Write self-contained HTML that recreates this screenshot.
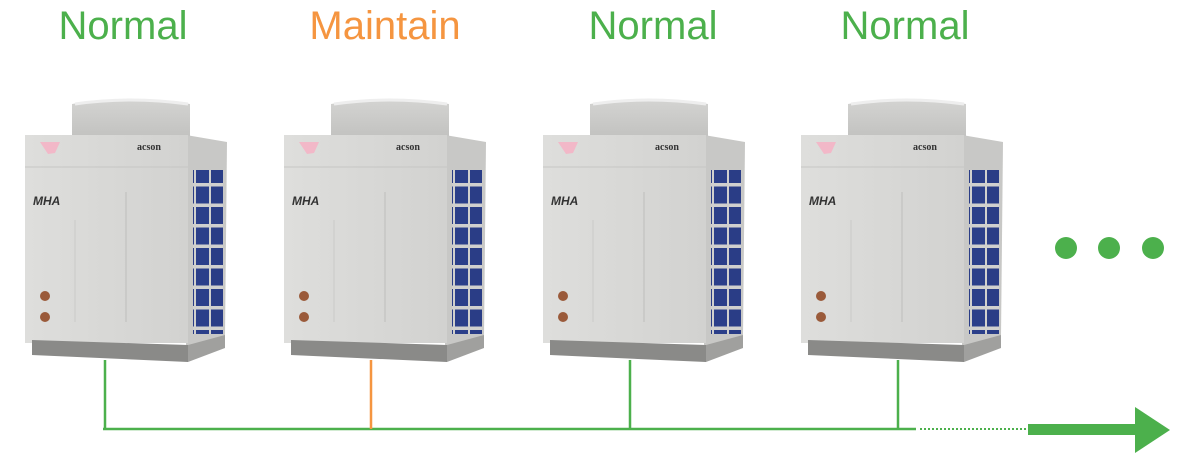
<!DOCTYPE html>
<html><head><style>
html,body{margin:0;padding:0;background:#fff;}
svg{display:block;}
text{font-family:"Liberation Sans",sans-serif;font-size:40px;}
</style></head><body>
<svg width="1192" height="454" viewBox="0 0 1192 454" xmlns="http://www.w3.org/2000/svg">
<defs>
<linearGradient id="fan" x1="0" y1="0" x2="0" y2="1"><stop offset="0" stop-color="#d4d4d2"/><stop offset="1" stop-color="#c2c2c0"/></linearGradient>
<linearGradient id="fr" x1="0" y1="0" x2="1" y2="0"><stop offset="0" stop-color="#dededc"/><stop offset="1" stop-color="#d2d2d0"/></linearGradient>
<pattern id="fins" x="0" y="0" width="30" height="20.5" patternUnits="userSpaceOnUse">
<rect width="30" height="20.5" fill="#d0d0ce"/>
<rect x="1" y="2" width="13" height="17" fill="#2a3d86"/>
<rect x="16" y="2" width="13" height="17" fill="#2b3f8a"/>
</pattern>
<g id="unit">
<path d="M72 104 Q130 94 190 104 L190 137 L72 137 Z" fill="url(#fan)"/>
<path d="M75 104 Q130 96 188 104" stroke="#eeeeee" stroke-width="3" fill="none"/>
<path d="M186 135 L227 142 L225 337 L186 350 Z" fill="#c8c8c6"/>
<rect x="193" y="170" width="30" height="164" fill="url(#fins)"/>
<rect x="25" y="135" width="163" height="208" fill="url(#fr)"/>
<line x1="25" y1="167" x2="188" y2="167" stroke="#c6c6c4" stroke-width="1"/>
<line x1="126" y1="192" x2="126" y2="322" stroke="#bdbdbb" stroke-width="1"/>
<line x1="75" y1="220" x2="75" y2="322" stroke="#cacac8" stroke-width="1"/>
<path d="M40 142 L60 142 L55 153 L48 154 Z" fill="#f2b8c8"/>
<text x="137" y="150" style="font-size:10px;font-weight:bold;font-family:'Liberation Serif',serif" fill="#333">acson</text>
<text x="33" y="205" style="font-size:12px;font-weight:bold;font-style:italic" fill="#333">MHA</text>
<circle cx="45" cy="296" r="5" fill="#9a5a3a"/>
<circle cx="45" cy="317" r="5" fill="#9a5a3a"/>
<path d="M32 340 L188 345 L188 362 L32 355 Z" fill="#8a8a88"/>
<path d="M188 345 L225 335 L225 348 L188 362 Z" fill="#a0a09e"/>
</g>
</defs>
<use href="#unit"/>
<use href="#unit" x="259"/>
<use href="#unit" x="518"/>
<use href="#unit" x="776"/>
<text x="123" y="39" text-anchor="middle" fill="#4cb04c">Normal</text>
<text x="385" y="39" text-anchor="middle" fill="#f59540">Maintain</text>
<text x="653" y="39" text-anchor="middle" fill="#4cb04c">Normal</text>
<text x="905" y="39" text-anchor="middle" fill="#4cb04c">Normal</text>
<g stroke="#4cb04c" stroke-width="2.5">
<line x1="103" y1="429" x2="916" y2="429"/>
<line x1="105" y1="360" x2="105" y2="429"/>
<line x1="630" y1="360" x2="630" y2="429"/>
<line x1="898" y1="360" x2="898" y2="429"/>
</g>
<line x1="371" y1="360" x2="371" y2="429" stroke="#f59540" stroke-width="2.5"/>
<line x1="920" y1="429" x2="1028" y2="429" stroke="#4cb04c" stroke-width="2" stroke-dasharray="2 2"/>
<rect x="1028" y="424" width="108" height="11" fill="#4cb04c"/>
<polygon points="1135,407 1170,430 1135,453" fill="#4cb04c"/>
<circle cx="1066" cy="248" r="11" fill="#4cb04c"/>
<circle cx="1109" cy="248" r="11" fill="#4cb04c"/>
<circle cx="1153" cy="248" r="11" fill="#4cb04c"/>
</svg>
</body></html>
